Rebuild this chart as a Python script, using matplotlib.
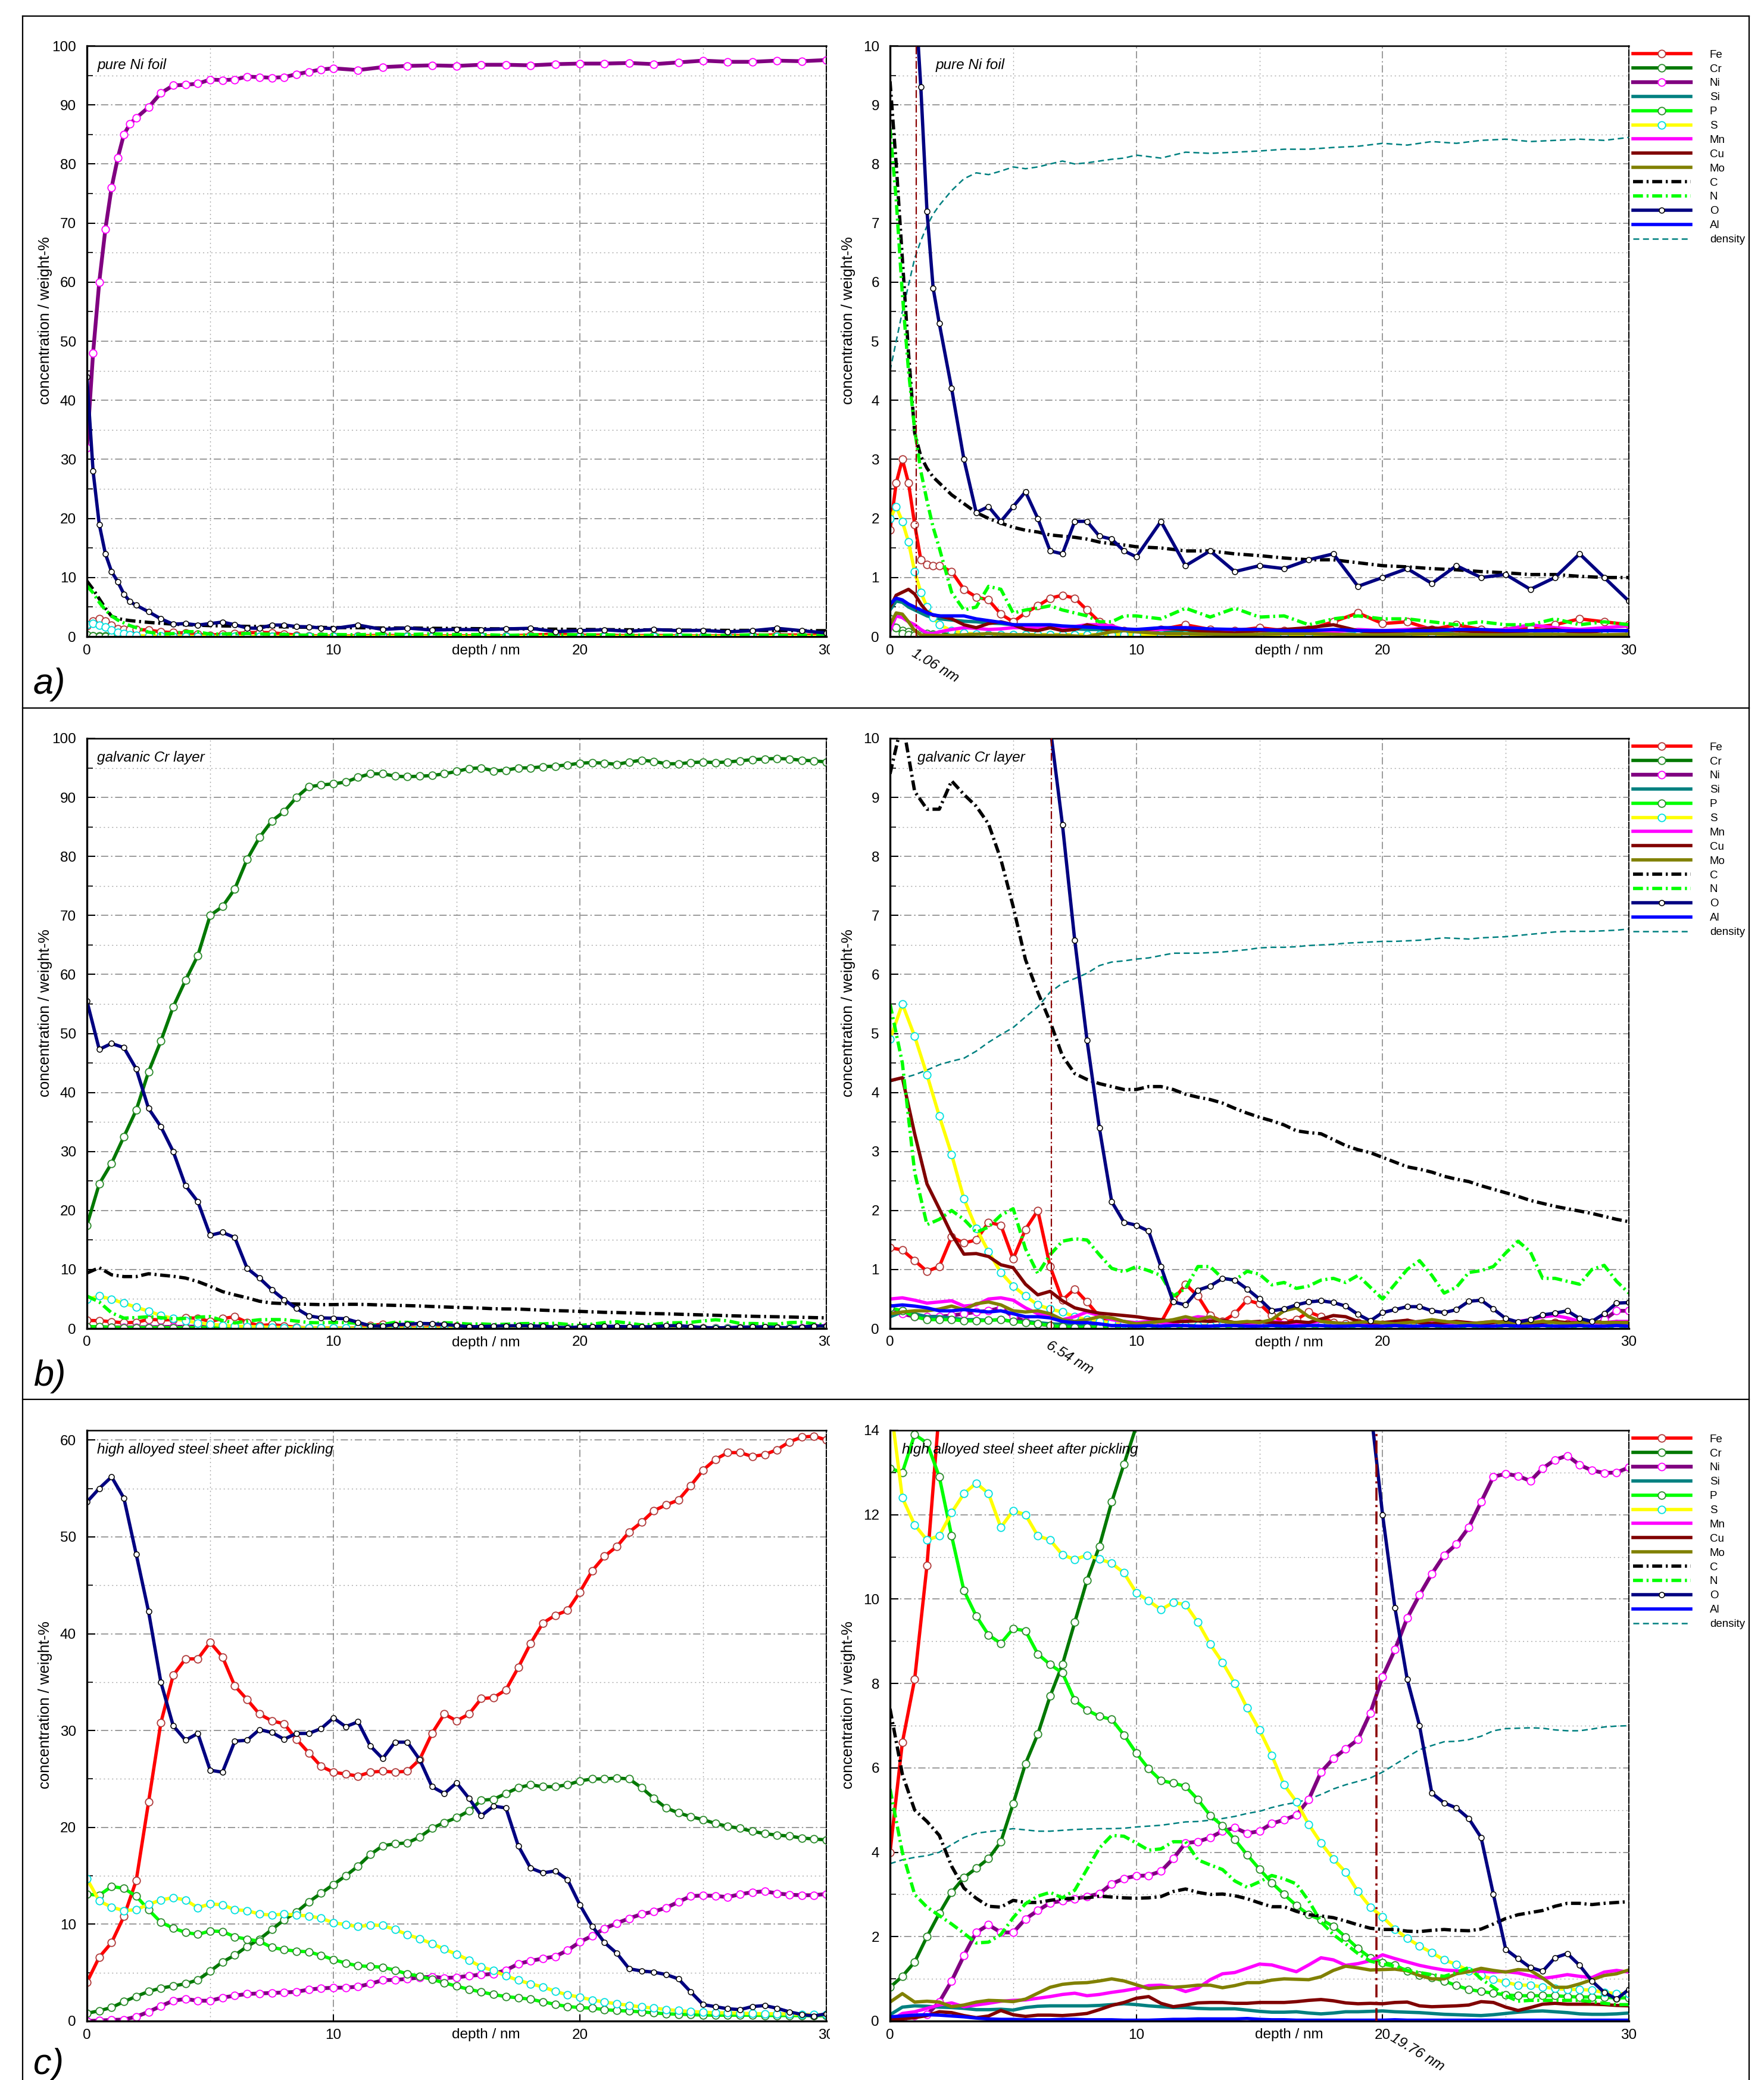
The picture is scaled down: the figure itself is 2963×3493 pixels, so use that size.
import matplotlib
matplotlib.use('Agg')
import matplotlib.pyplot as plt
from matplotlib.lines import Line2D
from matplotlib.ticker import MultipleLocator
from matplotlib.transforms import Bbox, TransformedBbox

plt.rcParams['font.family'] = ['Liberation Sans', 'DejaVu Sans']

# ---------------------------------------------------------------- data
# a) pure Ni foil
depth_a = [0, 0.25, 0.5, 0.75, 1, 1.25, 1.5, 1.75, 2,
           2.5, 3, 3.5, 4, 4.5, 5, 5.5, 6, 6.5, 7, 7.5, 8, 8.5, 9, 9.5, 10,
           11, 12, 13, 14, 15, 16, 17, 18, 19, 20, 21, 22, 23, 24, 25, 26, 27, 28, 29, 30]
fe_a = [1.8, 2.6, 3.0, 2.6, 1.9, 1.3, 1.22, 1.2, 1.2,
        1.1, 0.8, 0.67, 0.62, 0.38, 0.25, 0.4, 0.52, 0.65, 0.7, 0.65, 0.45, 0.25, 0.15, 0.1, 0.08,
        0.12, 0.2, 0.12, 0.1, 0.15, 0.1, 0.12, 0.25, 0.4, 0.22, 0.25, 0.12, 0.2, 0.12, 0.1, 0.15, 0.2, 0.3, 0.25, 0.2]
cr_a = [0.25, 0.15, 0.1, 0.08, 0.06, 0.05, 0.05, 0.04, 0.04,
        0.04, 0.04, 0.03, 0.03, 0.03, 0.03, 0.03, 0.03, 0.03, 0.03, 0.03, 0.03, 0.03, 0.03, 0.03, 0.03,
        0.03, 0.03, 0.03, 0.03, 0.03, 0.03, 0.03, 0.03, 0.03, 0.03, 0.03, 0.03, 0.03, 0.03, 0.03, 0.03, 0.03, 0.03, 0.03, 0.03]
ni_a = [32, 48, 60, 69, 76, 81, 85, 86.8, 87.8,
        89.6, 92, 93.3, 93.4, 93.6, 94.3, 94.2, 94.3, 94.8, 94.7, 94.6, 94.7, 95.2, 95.6, 96, 96.2,
        95.9, 96.4, 96.6, 96.7, 96.6, 96.8, 96.8, 96.7, 96.9, 97.0, 97.0, 97.1, 96.9, 97.2, 97.5, 97.3, 97.3, 97.5, 97.4, 97.6]
si_a = [0.45, 0.6, 0.58, 0.5, 0.45, 0.4, 0.35, 0.32, 0.3,
        0.28, 0.26, 0.25, 0.23, 0.22, 0.2, 0.18, 0.17, 0.15, 0.14, 0.13, 0.12, 0.12, 0.11, 0.1, 0.1,
        0.1, 0.1, 0.09, 0.1, 0.1, 0.09, 0.09, 0.1, 0.09, 0.08, 0.09, 0.09, 0.1, 0.1, 0.1, 0.09, 0.1, 0.1, 0.1, 0.1]
p_a = [0.3, 0.15, 0.05, 0.03, 0.02, 0.02, 0.02, 0.02, 0.02,
       0.02, 0.02, 0.02, 0.02, 0.02, 0.02, 0.02, 0.02, 0.02, 0.02, 0.02, 0.02, 0.02, 0.02, 0.02, 0.02,
       0.02, 0.02, 0.02, 0.02, 0.02, 0.02, 0.02, 0.02, 0.02, 0.02, 0.02, 0.02, 0.02, 0.02, 0.02, 0.02, 0.02, 0.02, 0.02, 0.02]
s_a = [2.0, 2.2, 1.95, 1.6, 1.1, 0.75, 0.5, 0.32, 0.2,
       0.1, 0.06, 0.04, 0.03, 0.03, 0.03, 0.03, 0.03, 0.03, 0.03, 0.03, 0.03, 0.03, 0.03, 0.03, 0.03,
       0.03, 0.03, 0.03, 0.03, 0.03, 0.03, 0.03, 0.03, 0.03, 0.03, 0.03, 0.03, 0.03, 0.03, 0.03, 0.03, 0.03, 0.03, 0.03, 0.03]
mn_a = [0.1, 0.35, 0.32, 0.25, 0.2, 0.12, 0.06, 0.05, 0.08,
        0.12, 0.15, 0.14, 0.12, 0.13, 0.15, 0.15, 0.14, 0.15, 0.15, 0.17, 0.2, 0.2, 0.18, 0.12, 0.1,
        0.12, 0.15, 0.1, 0.12, 0.1, 0.12, 0.1, 0.08, 0.12, 0.1, 0.12, 0.15, 0.1, 0.1, 0.12, 0.2, 0.15, 0.12, 0.15, 0.18]
cu_a = [0.5, 0.7, 0.75, 0.8, 0.72, 0.55, 0.42, 0.36, 0.35,
        0.3, 0.2, 0.15, 0.22, 0.25, 0.2, 0.12, 0.1, 0.15, 0.1, 0.12, 0.2, 0.15, 0.1, 0.1, 0.1,
        0.15, 0.12, 0.08, 0.06, 0.1, 0.12, 0.15, 0.2, 0.1, 0.06, 0.1, 0.15, 0.1, 0.08, 0.05, 0.1, 0.12, 0.06, 0.1, 0.1]
mo_a = [0.2, 0.4, 0.38, 0.25, 0.1, 0.03, 0.02, 0.02, 0.02,
        0.02, 0.03, 0.04, 0.05, 0.04, 0.03, 0.03, 0.02, 0.02, 0.02, 0.01, 0.0, 0.04, 0.08, 0.1, 0.08,
        0.05, 0.05, 0.04, 0.03, 0.04, 0.05, 0.05, 0.04, 0.03, 0.03, 0.04, 0.05, 0.04, 0.03, 0.03, 0.04, 0.04, 0.03, 0.03, 0.04]
c_a = [9.4, 8.0, 6.4, 4.8, 3.45, 3.05, 2.85, 2.7, 2.6,
       2.4, 2.25, 2.1, 2.0, 1.92, 1.85, 1.8, 1.77, 1.72, 1.7, 1.68, 1.65, 1.6, 1.57, 1.55, 1.52,
       1.5, 1.45, 1.45, 1.4, 1.37, 1.33, 1.3, 1.3, 1.25, 1.2, 1.18, 1.15, 1.13, 1.1, 1.08, 1.05, 1.05, 1.02, 1.0, 1.0]
n_a = [8.6, 7.4, 5.8, 4.5, 3.5, 2.8, 2.3, 1.85, 1.5,
       0.75, 0.45, 0.5, 0.85, 0.8, 0.4, 0.45, 0.48, 0.52, 0.45, 0.4, 0.35, 0.25, 0.25, 0.35, 0.35,
       0.3, 0.48, 0.33, 0.48, 0.33, 0.35, 0.2, 0.3, 0.35, 0.3, 0.3, 0.25, 0.2, 0.25, 0.2, 0.2, 0.3, 0.2, 0.25, 0.2]
o_a = [44, 28, 19, 14, 11, 9.3, 7.2, 5.9, 5.3,
       4.2, 3.0, 2.1, 2.2, 1.95, 2.2, 2.45, 2.0, 1.45, 1.4, 1.95, 1.95, 1.7, 1.65, 1.45, 1.35,
       1.95, 1.2, 1.45, 1.1, 1.2, 1.15, 1.3, 1.4, 0.85, 1.0, 1.15, 0.9, 1.2, 1.0, 1.05, 0.8, 1.0, 1.4, 1.0, 0.6]
al_a = [0.55, 0.65, 0.62, 0.55, 0.5, 0.45, 0.4, 0.37, 0.35,
        0.35, 0.35, 0.3, 0.27, 0.24, 0.2, 0.2, 0.2, 0.2, 0.18, 0.17, 0.16, 0.15, 0.15, 0.13, 0.12,
        0.15, 0.15, 0.13, 0.12, 0.12, 0.1, 0.1, 0.12, 0.1, 0.1, 0.1, 0.1, 0.12, 0.12, 0.1, 0.1, 0.1, 0.1, 0.1, 0.1]
dens_a = [4.5, 5.0, 5.5, 5.95, 6.4, 6.7, 6.95, 7.15, 7.3,
          7.55, 7.75, 7.85, 7.82, 7.88, 7.95, 7.92, 7.95, 8.0, 8.05, 8.0, 8.02, 8.05, 8.08, 8.1, 8.15,
          8.1, 8.2, 8.18, 8.2, 8.22, 8.25, 8.25, 8.28, 8.3, 8.35, 8.32, 8.38, 8.35, 8.4, 8.42, 8.38, 8.4, 8.42, 8.4, 8.45]

# b) galvanic Cr layer  (depth 0 ... 30 nm, 0.5 nm steps)
depth_b = [0, 0.5, 1, 1.5, 2, 2.5, 3, 3.5, 4, 4.5, 5, 5.5, 6, 6.5, 7, 7.5, 8, 8.5, 9, 9.5,
           10, 10.5, 11, 11.5, 12, 12.5, 13, 13.5, 14, 14.5, 15, 15.5, 16, 16.5, 17, 17.5, 18, 18.5, 19, 19.5,
           20, 20.5, 21, 21.5, 22, 22.5, 23, 23.5, 24, 24.5, 25, 25.5, 26, 26.5, 27, 27.5, 28, 28.5, 29, 29.5, 30]
fe_b = [1.37, 1.33, 1.15, 0.97, 1.05, 1.55, 1.45, 1.5, 1.8, 1.75,
        1.18, 1.68, 2.0, 1.05, 0.48, 0.67, 0.45, 0.2, 0.1, 0.07,
        0.06, 0.04, 0.1, 0.48, 0.75, 0.55, 0.22, 0.12, 0.25, 0.48,
        0.42, 0.22, 0.11, 0.15, 0.28, 0.2, 0.1, 0.08, 0.1, 0.08,
        0.07, 0.08, 0.1, 0.07, 0.06, 0.08, 0.06, 0.05, 0.05, 0.06,
        0.07, 0.08, 0.1, 0.09, 0.1, 0.08, 0.07, 0.08, 0.09, 0.08, 0.08]
cr_b = [17.5, 24.5, 28, 32.5, 37, 43.5, 48.7, 54.5, 59, 63.2,
        70, 71.5, 74.5, 79.5, 83.2, 86, 87.6, 90, 91.8, 92.1,
        92.3, 92.6, 93.4, 94, 94, 93.6, 93.5, 93.6, 93.7, 94,
        94.4, 94.9, 95, 94.5, 94.6, 95, 95, 95.2, 95.3, 95.5,
        95.8, 95.9, 95.8, 95.6, 96, 96.3, 96.1, 95.7, 95.7, 95.9,
        96, 95.9, 96, 96.2, 96.4, 96.5, 96.6, 96.5, 96.3, 96.2, 96]
ni_b = [0.3, 0.25, 0.2, 0.2, 0.2, 0.22, 0.25, 0.28, 0.3, 0.35,
        0.2, 0.12, 0.08, 0.05, 0.04, 0.03, 0.03, 0.03, 0.03, 0.03,
        0.03, 0.03, 0.03, 0.03, 0.03, 0.03, 0.03, 0.03, 0.03, 0.03,
        0.03, 0.03, 0.03, 0.03, 0.03, 0.03, 0.03, 0.03, 0.03, 0.03,
        0.03, 0.03, 0.03, 0.03, 0.03, 0.03, 0.03, 0.03, 0.03, 0.03,
        0.03, 0.03, 0.03, 0.03, 0.03, 0.03, 0.03, 0.03, 0.15, 0.3, 0.3]
si_b = [0.2, 0.28, 0.25, 0.2, 0.2, 0.18, 0.15, 0.15, 0.14, 0.15,
        0.12, 0.12, 0.1, 0.08, 0.07, 0.06, 0.06, 0.05, 0.05, 0.05,
        0.05, 0.05, 0.05, 0.05, 0.05, 0.05, 0.05, 0.05, 0.05, 0.05,
        0.05, 0.05, 0.05, 0.05, 0.05, 0.05, 0.05, 0.05, 0.05, 0.05,
        0.05, 0.05, 0.05, 0.05, 0.05, 0.05, 0.05, 0.05, 0.05, 0.05,
        0.05, 0.05, 0.05, 0.05, 0.05, 0.05, 0.05, 0.05, 0.05, 0.05, 0.05]
p_b = [0.35, 0.3, 0.2, 0.15, 0.15, 0.15, 0.13, 0.13, 0.14, 0.15,
       0.12, 0.1, 0.08, 0.05, 0.03, 0.02, 0.02, 0.02, 0.02, 0.02,
       0.02, 0.02, 0.02, 0.02, 0.02, 0.02, 0.02, 0.02, 0.02, 0.02,
       0.02, 0.02, 0.02, 0.02, 0.02, 0.02, 0.02, 0.02, 0.02, 0.02,
       0.02, 0.02, 0.02, 0.02, 0.02, 0.02, 0.02, 0.02, 0.02, 0.02,
       0.02, 0.02, 0.02, 0.02, 0.02, 0.02, 0.02, 0.02, 0.02, 0.02, 0.02]
s_b = [4.9, 5.5, 4.95, 4.3, 3.6, 2.95, 2.2, 1.7, 1.3, 0.95,
       0.72, 0.55, 0.4, 0.33, 0.28, 0.2, 0.15, 0.12, 0.1, 0.08,
       0.07, 0.06, 0.05, 0.05, 0.05, 0.05, 0.05, 0.05, 0.05, 0.05,
       0.05, 0.05, 0.05, 0.05, 0.05, 0.05, 0.05, 0.05, 0.05, 0.05,
       0.05, 0.05, 0.05, 0.05, 0.05, 0.05, 0.05, 0.05, 0.05, 0.05,
       0.05, 0.05, 0.05, 0.05, 0.05, 0.05, 0.05, 0.05, 0.05, 0.05, 0.05]
mn_b = [0.5, 0.52, 0.48, 0.43, 0.45, 0.47, 0.38, 0.4, 0.5, 0.52,
        0.48, 0.35, 0.25, 0.2, 0.15, 0.2, 0.28, 0.22, 0.15, 0.12,
        0.1, 0.12, 0.1, 0.08, 0.15, 0.2, 0.18, 0.12, 0.1, 0.08,
        0.1, 0.12, 0.1, 0.08, 0.1, 0.12, 0.1, 0.08, 0.06, 0.08,
        0.1, 0.08, 0.1, 0.12, 0.1, 0.08, 0.1, 0.08, 0.1, 0.12,
        0.1, 0.12, 0.15, 0.2, 0.22, 0.18, 0.12, 0.1, 0.1, 0.12, 0.12]
cu_b = [4.2, 4.25, 3.3, 2.45, 2.03, 1.6, 1.26, 1.27, 1.22, 1.08,
        1.03, 0.75, 0.57, 0.63, 0.47, 0.35, 0.3, 0.26, 0.24, 0.22,
        0.2, 0.17, 0.15, 0.12, 0.12, 0.13, 0.12, 0.14, 0.1, 0.11,
        0.12, 0.1, 0.09, 0.12, 0.1, 0.16, 0.22, 0.2, 0.12, 0.1,
        0.1, 0.12, 0.14, 0.1, 0.08, 0.1, 0.12, 0.1, 0.08, 0.1,
        0.12, 0.1, 0.08, 0.1, 0.12, 0.1, 0.1, 0.12, 0.1, 0.1, 0.1]
mo_b = [0.25, 0.28, 0.3, 0.3, 0.33, 0.38, 0.32, 0.42, 0.45, 0.4,
        0.3, 0.28, 0.3, 0.25, 0.15, 0.12, 0.15, 0.2, 0.18, 0.12,
        0.08, 0.1, 0.12, 0.15, 0.2, 0.15, 0.2, 0.12, 0.1, 0.12,
        0.1, 0.15, 0.3, 0.35, 0.2, 0.12, 0.1, 0.08, 0.1, 0.12,
        0.1, 0.08, 0.1, 0.12, 0.15, 0.12, 0.1, 0.08, 0.1, 0.12,
        0.1, 0.08, 0.1, 0.12, 0.1, 0.08, 0.1, 0.12, 0.1, 0.1, 0.1]
c_b = [9.4, 10.3, 9.1, 8.8, 8.8, 9.28, 9.05, 8.85, 8.55, 7.95,
       7.15, 6.25, 5.7, 5.2, 4.62, 4.32, 4.22, 4.15, 4.1, 4.05,
       4.05, 4.1, 4.1, 4.05, 3.97, 3.92, 3.88, 3.82, 3.73, 3.65,
       3.58, 3.52, 3.45, 3.35, 3.32, 3.3, 3.2, 3.1, 3.03, 2.98,
       2.9, 2.82, 2.74, 2.7, 2.65, 2.58, 2.53, 2.49, 2.42, 2.36,
       2.3, 2.24, 2.17, 2.12, 2.07, 2.03, 1.99, 1.95, 1.9, 1.85, 1.81]
n_b = [5.5, 4.5, 2.65, 1.76, 1.85, 2.0, 1.85, 1.63, 1.72, 1.92,
       2.03, 1.35, 0.93, 1.25, 1.48, 1.52, 1.5, 1.25, 1.02, 0.96,
       1.05, 0.98, 0.9, 0.55, 0.68, 1.05, 1.05, 0.85, 0.82, 0.97,
       0.92, 0.74, 0.78, 0.68, 0.72, 0.82, 0.85, 0.78, 0.9, 0.7,
       0.5, 0.75, 1.0, 1.15, 0.9, 0.6, 0.7, 0.95, 0.98, 1.05,
       1.28, 1.48, 1.3, 0.85, 0.85, 0.8, 0.75, 1.0, 1.07, 0.8, 0.6]
o_b = [55.5, 47.3, 48.3, 47.6, 44, 37.3, 34.2, 30, 24.2, 21.5,
       15.8, 16.3, 15.4, 10.2, 8.54, 6.58, 4.88, 3.4, 2.15, 1.8,
       1.75, 1.65, 1.05, 0.45, 0.4, 0.65, 0.72, 0.85, 0.82, 0.67,
       0.5, 0.3, 0.33, 0.4, 0.45, 0.47, 0.44, 0.38, 0.24, 0.13,
       0.27, 0.32, 0.37, 0.37, 0.3, 0.27, 0.32, 0.46, 0.48, 0.33,
       0.17, 0.11, 0.15, 0.23, 0.26, 0.3, 0.17, 0.12, 0.25, 0.43, 0.44]
al_b = [0.38, 0.4, 0.38, 0.35, 0.3, 0.3, 0.32, 0.3, 0.28, 0.3,
        0.25, 0.2, 0.2, 0.18, 0.12, 0.1, 0.1, 0.08, 0.05, 0.05,
        0.04, 0.05, 0.04, 0.05, 0.05, 0.04, 0.04, 0.05, 0.05, 0.04,
        0.04, 0.05, 0.04, 0.04, 0.05, 0.05, 0.04, 0.04, 0.05, 0.04,
        0.04, 0.05, 0.04, 0.04, 0.05, 0.04, 0.04, 0.05, 0.04, 0.04,
        0.05, 0.04, 0.04, 0.05, 0.04, 0.04, 0.05, 0.04, 0.04, 0.05, 0.04]
dens_b = [4.18, 4.24, 4.3, 4.38, 4.47, 4.53, 4.58, 4.7, 4.85, 4.98,
          5.1, 5.28, 5.45, 5.7, 5.85, 5.93, 6.02, 6.15, 6.21, 6.23,
          6.26, 6.28, 6.32, 6.36, 6.36, 6.36, 6.37, 6.38, 6.4, 6.42,
          6.45, 6.46, 6.46, 6.47, 6.49, 6.5, 6.51, 6.53, 6.54, 6.55,
          6.56, 6.56, 6.57, 6.58, 6.6, 6.62, 6.61, 6.6, 6.62, 6.63,
          6.64, 6.66, 6.68, 6.7, 6.72, 6.73, 6.73, 6.73, 6.74, 6.75, 6.77]

# c) high alloyed steel sheet after pickling (depth 0 ... 30 nm, 0.5 nm steps)
depth_c = [0, 0.5, 1, 1.5, 2, 2.5, 3, 3.5, 4, 4.5, 5, 5.5, 6, 6.5, 7, 7.5, 8, 8.5, 9, 9.5,
           10, 10.5, 11, 11.5, 12, 12.5, 13, 13.5, 14, 14.5, 15, 15.5, 16, 16.5, 17, 17.5, 18, 18.5, 19, 19.5,
           20, 20.5, 21, 21.5, 22, 22.5, 23, 23.5, 24, 24.5, 25, 25.5, 26, 26.5, 27, 27.5, 28, 28.5, 29, 29.5, 30]
fe_c = [4.0, 6.6, 8.1, 10.8, 14.5, 22.6, 30.8, 35.7, 37.4, 37.4,
        39.1, 37.6, 34.6, 33.2, 31.7, 31.0, 30.7, 29.1, 27.7, 26.3,
        25.7, 25.5, 25.3, 25.7, 25.8, 25.7, 25.8, 27.0, 29.7, 31.7,
        31.0, 31.7, 33.3, 33.4, 34.2, 36.5, 39.0, 41.1, 41.9, 42.4,
        44.3, 46.5, 48.0, 49.0, 50.5, 51.5, 52.7, 53.3, 53.8, 55.3,
        56.9, 58.0, 58.7, 58.7, 58.3, 58.5, 59.0, 59.8, 60.3, 60.4, 60.0]
cr_c = [0.8, 1.06, 1.4, 2.0, 2.55, 3.05, 3.4, 3.62, 3.85, 4.25,
        5.15, 6.1, 6.8, 7.7, 8.45, 9.45, 10.45, 11.25, 12.3, 13.2,
        14.1, 15.0, 16.0, 17.2, 18.1, 18.3, 18.4, 19.0, 19.9, 20.5,
        21.0, 21.7, 22.8, 22.9, 23.5, 24.1, 24.4, 24.2, 24.2, 24.4,
        24.8, 25.0, 25.0, 25.1, 25.0, 24.1, 23.0, 22.0, 21.5, 21.1,
        20.8, 20.4, 20.1, 19.9, 19.6, 19.35, 19.2, 19.1, 18.9, 18.8, 18.7]
ni_c = [0.0, 0.05, 0.12, 0.15, 0.45, 0.95, 1.55, 2.1, 2.28, 2.1,
        2.1, 2.42, 2.62, 2.8, 2.85, 2.9, 2.95, 3.02, 3.25, 3.38,
        3.44, 3.45, 3.55, 3.85, 4.22, 4.25, 4.35, 4.5, 4.58, 4.45,
        4.5, 4.68, 4.77, 4.88, 5.25, 5.9, 6.22, 6.45, 6.67, 7.3,
        8.16, 8.8, 9.55, 10.1, 10.6, 11.04, 11.3, 11.7, 12.3, 12.9,
        12.97, 12.92, 12.8, 13.1, 13.3, 13.4, 13.18, 13.05, 12.99, 13.0, 13.12]
si_c = [0.15, 0.33, 0.36, 0.35, 0.33, 0.32, 0.3, 0.27, 0.27, 0.28,
        0.26, 0.32, 0.35, 0.36, 0.36, 0.36, 0.36, 0.37, 0.39, 0.41,
        0.39, 0.36, 0.34, 0.32, 0.32, 0.3, 0.29, 0.29, 0.29, 0.26,
        0.23, 0.21, 0.21, 0.22, 0.19, 0.17, 0.19, 0.22, 0.22, 0.23,
        0.24, 0.22, 0.21, 0.2, 0.18, 0.16, 0.15, 0.14, 0.13, 0.15,
        0.18, 0.21, 0.23, 0.24, 0.22, 0.2, 0.17, 0.16, 0.16, 0.17, 0.19]
p_c = [13.1, 13.0, 13.9, 13.7, 12.9, 11.5, 10.2, 9.6, 9.15, 8.95,
       9.3, 9.25, 8.7, 8.45, 8.25, 7.6, 7.37, 7.22, 7.15, 6.78,
       6.35, 5.98, 5.7, 5.64, 5.56, 5.25, 4.87, 4.63, 4.3, 3.94,
       3.6, 3.28, 3.0, 2.74, 2.52, 2.4, 2.25, 1.99, 1.72, 1.5,
       1.39, 1.33, 1.18, 1.08, 1.03, 0.95, 0.84, 0.75, 0.7, 0.66,
       0.62, 0.6, 0.6, 0.6, 0.6, 0.58, 0.57, 0.57, 0.56, 0.55, 0.55]
s_c = [14.7, 12.4, 11.76, 11.4, 11.5, 12.05, 12.5, 12.75, 12.5, 11.7,
       12.1, 12.0, 11.5, 11.4, 11.05, 10.94, 11.04, 10.95, 10.85, 10.62,
       10.15, 9.96, 9.75, 9.92, 9.87, 9.45, 8.93, 8.5, 8.0, 7.42,
       6.9, 6.3, 5.6, 5.2, 4.66, 4.22, 3.84, 3.53, 3.07, 2.7,
       2.47, 2.18, 1.96, 1.78, 1.62, 1.45, 1.34, 1.19, 1.08, 0.99,
       0.92, 0.85, 0.85, 0.81, 0.77, 0.75, 0.75, 0.73, 0.68, 0.65, 0.65]
mn_c = [0.0, 0.18, 0.22, 0.3, 0.38, 0.43, 0.34, 0.38, 0.42, 0.47,
        0.49, 0.5, 0.54, 0.58, 0.63, 0.66, 0.6, 0.63, 0.68, 0.72,
        0.77, 0.84, 0.85, 0.8, 0.7, 0.78, 0.98, 1.12, 1.15, 1.25,
        1.35, 1.33, 1.25, 1.17, 1.33, 1.5, 1.45, 1.32, 1.36, 1.43,
        1.57, 1.48, 1.4, 1.32, 1.26, 1.21, 1.19, 1.18, 1.18, 1.16,
        1.17, 1.14, 1.07, 1.01, 1.05, 1.1, 1.06, 1.03, 1.16, 1.2, 1.16]
cu_c = [0.03, 0.05, 0.08, 0.13, 0.22, 0.2, 0.13, 0.08, 0.12, 0.25,
        0.15, 0.11, 0.14, 0.14, 0.13, 0.15, 0.18, 0.27, 0.37, 0.44,
        0.54, 0.58, 0.42, 0.34, 0.38, 0.43, 0.44, 0.44, 0.42, 0.42,
        0.44, 0.44, 0.44, 0.46, 0.49, 0.51, 0.48, 0.43, 0.41, 0.42,
        0.41, 0.44, 0.45, 0.36, 0.34, 0.35, 0.36, 0.38, 0.46, 0.44,
        0.33, 0.25, 0.32, 0.4, 0.42, 0.4, 0.4, 0.4, 0.39, 0.37, 0.36]
mo_c = [0.45, 0.65, 0.45, 0.47, 0.45, 0.34, 0.38, 0.45, 0.49, 0.48,
        0.46, 0.52, 0.66, 0.8, 0.87, 0.9, 0.91, 0.95, 1.0, 0.95,
        0.86, 0.77, 0.8, 0.8, 0.82, 0.85, 0.85, 0.79, 0.84, 0.91,
        0.91, 0.97, 1.0, 0.99, 0.98, 1.05, 1.2, 1.3, 1.26, 1.21,
        1.22, 1.23, 1.19, 1.08, 1.0, 1.0, 1.12, 1.17, 1.25, 1.2,
        1.16, 1.22, 1.2, 1.02, 0.8, 0.8, 0.88, 0.98, 1.08, 1.12, 1.21]
c_c = [7.4, 5.85, 5.0, 4.73, 4.4, 3.67, 3.15, 2.91, 2.72, 2.7,
       2.86, 2.81, 2.81, 2.86, 2.9, 2.91, 2.92, 2.96, 2.94, 2.92,
       2.91, 2.92, 2.95, 3.07, 3.13, 3.05, 3.0, 3.01, 2.97, 2.9,
       2.8, 2.71, 2.71, 2.6, 2.52, 2.49, 2.45, 2.37, 2.28, 2.2,
       2.17, 2.17, 2.13, 2.12, 2.15, 2.17, 2.15, 2.14, 2.18, 2.3,
       2.43, 2.52, 2.57, 2.62, 2.72, 2.79, 2.79, 2.76, 2.79, 2.81, 2.83]
n_c = [5.5, 4.0, 3.0, 2.7, 2.5, 2.3, 2.08, 1.85, 1.87, 2.05,
       2.45, 2.78, 2.96, 3.05, 2.92, 3.1, 3.6, 4.1, 4.4, 4.38,
       4.22, 4.05, 4.08, 4.25, 4.25, 3.82, 3.7, 3.59, 3.32, 3.17,
       3.3, 3.45, 3.37, 3.25, 2.85, 2.35, 2.05, 1.83, 1.6, 1.42,
       1.35, 1.3, 1.2, 1.15, 1.1, 1.06, 1.15, 1.27, 1.0, 0.8,
       0.6, 0.47, 0.49, 0.49, 0.49, 0.49, 0.49, 0.46, 0.42, 0.39, 0.39]
o_c = [53.6, 55.0, 56.2, 54.0, 48.2, 42.3, 35.0, 30.5, 29.0, 29.7,
       25.9, 25.7, 28.9, 29.0, 30.1, 29.8, 29.1, 29.7, 29.7, 30.2,
       31.3, 30.4, 30.9, 28.4, 27.1, 28.8, 28.8, 27.0, 24.2, 23.5,
       24.6, 23.0, 21.2, 22.2, 22.0, 18.1, 15.8, 15.3, 15.5, 14.6,
       12.0, 9.8, 8.1, 7.0, 5.4, 5.17, 5.05, 4.8, 4.35, 3.0,
       1.7, 1.48, 1.27, 1.18, 1.5, 1.6, 1.32, 0.95, 0.68, 0.52, 0.75]
al_c = [0.1, 0.12, 0.14, 0.15, 0.14, 0.12, 0.1, 0.07, 0.05, 0.04,
        0.04, 0.03, 0.03, 0.03, 0.04, 0.04, 0.03, 0.03, 0.03, 0.02,
        0.02, 0.02, 0.03, 0.04, 0.04, 0.05, 0.05, 0.05, 0.05, 0.06,
        0.04, 0.03, 0.03, 0.02, 0.02, 0.02, 0.02, 0.02, 0.02, 0.02,
        0.02, 0.03, 0.02, 0.02, 0.02, 0.02, 0.02, 0.02, 0.02, 0.02,
        0.02, 0.02, 0.02, 0.02, 0.02, 0.02, 0.02, 0.02, 0.02, 0.02, 0.02]
dens_c = [3.73, 3.82, 3.88, 3.92, 4.0, 4.18, 4.35, 4.45, 4.49, 4.52,
          4.56, 4.53, 4.5, 4.5, 4.52, 4.54, 4.55, 4.56, 4.56, 4.57,
          4.6, 4.62, 4.64, 4.68, 4.72, 4.73, 4.76, 4.8, 4.85, 4.92,
          4.97, 5.06, 5.13, 5.18, 5.26, 5.37, 5.5, 5.6, 5.68, 5.76,
          5.9, 6.08, 6.26, 6.43, 6.53, 6.62, 6.63, 6.67, 6.75, 6.88,
          6.93, 6.94, 6.95, 6.94, 6.9, 6.88, 6.88, 6.92, 6.97, 6.99, 7.0]

elements = ['Fe', 'Cr', 'Ni', 'Si', 'P', 'S', 'Mn', 'Cu', 'Mo', 'C', 'N', 'O', 'Al']
# the overview (left) panels only show the main elements
left_elements = [['Fe', 'Cr', 'Ni', 'P', 'S', 'C', 'N', 'O'],
                 ['Fe', 'Cr', 'Ni', 'P', 'S', 'C', 'N', 'O'],
                 ['Fe', 'Cr', 'Ni', 'P', 'S', 'O']]
titles = ['pure Ni foil', 'galvanic Cr layer', 'high alloyed steel sheet after pickling']
marker_depths = [1.06, 6.54, 19.76]

rows = [
    (depth_a, dict(Fe=fe_a, Cr=cr_a, Ni=ni_a, Si=si_a, P=p_a, S=s_a, Mn=mn_a, Cu=cu_a,
                   Mo=mo_a, C=c_a, N=n_a, O=o_a, Al=al_a), dens_a),
    (depth_b, dict(Fe=fe_b, Cr=cr_b, Ni=ni_b, Si=si_b, P=p_b, S=s_b, Mn=mn_b, Cu=cu_b,
                   Mo=mo_b, C=c_b, N=n_b, O=o_b, Al=al_b), dens_b),
    (depth_c, dict(Fe=fe_c, Cr=cr_c, Ni=ni_c, Si=si_c, P=p_c, S=s_c, Mn=mn_c, Cu=cu_c,
                   Mo=mo_c, C=c_c, N=n_c, O=o_c, Al=al_c), dens_c),
]

# ---------------------------------------------------------------- styles
DASHDOT = (0, (3, 1.1, 0.6, 1.1))
LW = 4.0
MS = 9
STYLE = {
    'Fe': dict(color='#ff0000', lw=LW, marker='o', mfc='white', mec='#b03a3a', ms=MS, mew=1.3),
    'Cr': dict(color='#007800', lw=LW, marker='o', mfc='white', mec='#2a8a2a', ms=MS, mew=1.3),
    'Ni': dict(color='#800080', lw=4.6, marker='o', mfc='white', mec='#ff00ff', ms=MS, mew=1.3),
    'Si': dict(color='#008080', lw=LW),
    'P': dict(color='#00ff00', lw=LW, marker='o', mfc='white', mec='#2a8a2a', ms=MS, mew=1.3),
    'S': dict(color='#ffff00', lw=LW, marker='o', mfc='white', mec='#00e0e0', ms=MS, mew=1.3),
    'Mn': dict(color='#ff00ff', lw=LW),
    'Cu': dict(color='#800000', lw=LW),
    'Mo': dict(color='#808000', lw=LW),
    'C': dict(color='black', lw=LW, ls=DASHDOT),
    'N': dict(color='#00ff00', lw=LW, ls=DASHDOT),
    'O': dict(color='#000080', lw=LW, marker='o', mfc='white', mec='black', ms=6.5, mew=1.1),
    'Al': dict(color='#0000ff', lw=LW),
    'density': dict(color='#008080', lw=1.8, ls=(0, (4, 2.5))),
}

W, H = 2963, 3493
fig = plt.figure(figsize=(W / 100, H / 100), dpi=100)


def px_axes(x0, x1, y0, y1):
    return fig.add_axes([x0 / W, 1 - y1 / H, (x1 - x0) / W, (y1 - y0) / H])


def draw_panel(ax, depth, series, dens, shown, ymax, ystep, title, title_x, right,
               vline=None, vdx=0):
    if right:
        ax.plot(depth, dens, **STYLE['density'])
    for el in shown:
        ax.plot(depth, series[el], **STYLE[el])
    if vline is not None:
        ax.axvline(vline, color='#8b0000', lw=1.6 if vline < 10 else 2.6,
                   ls=(0, (6, 2, 1, 2)), zorder=3)
        ax.annotate('%.2f nm' % vline, xy=(vline, 0), xycoords=('data', 'axes fraction'),
                    xytext=(vdx, -12), textcoords='offset points', rotation=-31,
                    rotation_mode='anchor', ha='left', va='top', style='italic', fontsize=17.5)
    ax.set_xlim(0, 30)
    ax.set_ylim(0, ymax)
    ax.set_xticks([0, 10, 20, 30])
    ax.xaxis.set_minor_locator(MultipleLocator(5))
    ax.yaxis.set_major_locator(MultipleLocator(ystep))
    ax.yaxis.set_minor_locator(MultipleLocator(ystep / 2))
    ax.set_axisbelow(True)
    ax.grid(which='major', color='#808080', lw=1.1, ls=(0, (8, 3, 1.5, 3)))
    ax.grid(which='minor', color='#a8a8a8', lw=1.0, ls=(0, (1.5, 3.5)))
    ax.tick_params(which='major', direction='in', length=10, width=1.5, labelsize=17.5)
    ax.tick_params(axis='y', which='major', pad=13)
    ax.tick_params(axis='x', which='major', pad=9, length=8)
    ax.tick_params(axis='y', which='minor', direction='in', length=7, width=1.2)
    ax.tick_params(axis='x', which='minor', length=0)
    ax.spines['left'].set_linewidth(2.4)
    ax.spines['bottom'].set_linewidth(2.4)
    ax.spines['top'].set_linewidth(1.8)
    ax.spines['right'].set_linewidth(1.5)
    ax.spines['right'].set_linestyle((0, (5, 1.5)))
    ax.set_ylabel('concentration / weight-%', fontsize=18.5)
    ax.yaxis.set_label_coords(-0.047, 0.535)
    ax.annotate('depth / nm', xy=(16.2, 0), xycoords=('data', 'axes fraction'),
                xytext=(0, -9), textcoords='offset points', ha='center', va='top', fontsize=17.5)
    ax.text(title_x, 0.967, title, transform=ax.transAxes, style='italic', fontsize=17.5,
            ha='left', va='center')


legend_handles = [Line2D([], [], **STYLE[el]) for el in elements + ['density']]
legend_labels = elements + ['density']

row_y = [(77, 1069), (1240, 2231), (2402, 3394)]
left_ymax = [100, 100, 61]
left_step = [10, 10, 10]
right_ymax = [10, 10, 14]
right_step = [1, 1, 2]
right_title_x = [0.062, 0.037, 0.016]
vline_dx = [0, 0, 22]

clip_box = TransformedBbox(Bbox.from_extents(0, 0, 1394 / W, 1), fig.transFigure)

for i, (depth, series, dens) in enumerate(rows):
    y0, y1 = row_y[i]
    axl = px_axes(146, 1388, y0, y1)
    draw_panel(axl, depth, series, dens, left_elements[i], left_ymax[i], left_step[i],
               titles[i], 0.014, False)
    for tick in axl.xaxis.get_major_ticks():
        tick.label1.set_clip_box(clip_box)
        tick.label1.set_clip_on(True)

    axr = px_axes(1495, 2736, y0, y1)
    draw_panel(axr, depth, series, dens, elements, right_ymax[i], right_step[i], titles[i],
               right_title_x[i], True, vline=marker_depths[i], vdx=vline_dx[i])
    axr.legend(legend_handles, legend_labels, loc='upper left', bbox_to_anchor=(1.0, 1.0),
               frameon=False, fontsize=13.5, handlelength=5.2, handletextpad=1.7,
               labelspacing=0.36, borderpad=0.1, borderaxespad=0.25)

# frames around the three rows
def fig_line(xs, ys, lw=1.6):
    fig.add_artist(Line2D([x / W for x in xs], [1 - y / H for y in ys], color='black', lw=lw))

fig_line([38, 2938], [27, 27])
fig_line([38, 2938], [1189, 1189])
fig_line([38, 2938], [2350, 2350])
fig_line([38, 38], [27, 3493])
fig_line([2938, 2938], [27, 3493])

for lbl, yc in zip(['a)', 'b)', 'c)'], [1150, 2311, 3468]):
    fig.text(56 / W, 1 - yc / H, lbl, fontsize=44, style='italic', ha='left', va='center')

fig.savefig('out.png', dpi=100)
